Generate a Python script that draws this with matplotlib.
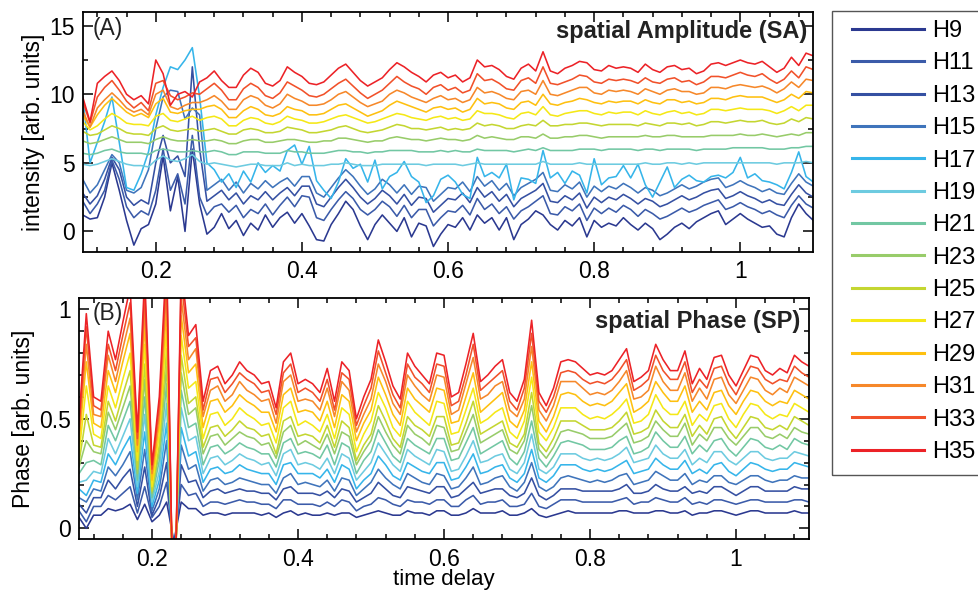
import numpy as np
import matplotlib
matplotlib.use('Agg')
import matplotlib.pyplot as plt
from matplotlib.patches import Rectangle
from matplotlib.ticker import MultipleLocator, FuncFormatter

plt.rcParams['font.family'] = ['Liberation Sans', 'DejaVu Sans']

# time delay grid: 0.10 ... 1.10
x = np.round(0.10 + 0.01 * np.arange(101), 2)

harmonics = ['H9', 'H11', 'H13', 'H15', 'H17', 'H19', 'H21',
             'H23', 'H25', 'H27', 'H29', 'H31', 'H33', 'H35']
colors = ['#2b3990', '#3b5ba9', '#3550a2', '#3f74bb', '#36b5ea', '#6dcbe0', '#72c7a3',
          '#98cc6a', '#c4d631', '#f5e816', '#fec010', '#f6882a', '#f1512a', '#ec2227']

# ---- (A) spatial amplitude ----
amp_h9 = [1.2, 0.9, 1.0, 2.5, 5.0, 3.0, 0.8, -1.0, 0.2, 0.5, 2.0, 5.5, 1.5, 4.0, 0.0, 6.0, 2.0, -0.2, 0.3, 1.3,
          0.2, 0.8, -0.3, 0.6, 0.1, 1.2, 0.3, 1.0, 1.4, 0.6, 1.3, 0.4, -0.6, -0.7, 0.5, 1.3, 2.2, 1.6, 0.4, -0.6,
          0.5, 1.2, 0.6, 0.0, 1.0, -0.4, 0.6, 0.4, -1.1, -0.2, 0.5, 0.3, 1.0, 0.1, 1.2, 0.6, 1.0, 0.1, 1.0, -0.6,
          0.5, 0.9, 1.5, 1.2, 0.5, 0.1, 0.8, 0.4, 1.0, -0.4, 0.8, 0.3, 0.6, 0.4, 1.0, 0.5, 0.1, 0.6, 0.2, -0.6,
          -0.2, 0.3, 0.6, 0.2, 0.7, 1.0, 1.3, 1.5, 0.5, 0.9, 1.3, 0.9, 0.6, 0.3, 0.4, -0.2, -0.4, 1.0, 2.0, 1.3, 0.8]
amp_h11 = [2.2, 1.3, 2.0, 3.0, 5.2, 3.8, 1.8, 1.0, 1.5, 1.2, 3.0, 6.0, 3.0, 4.2, 2.0, 7.0, 2.5, 1.2, 1.8, 2.0,
           1.4, 1.9, 1.0, 1.6, 1.3, 2.0, 1.2, 1.9, 2.5, 1.8, 2.6, 2.5, 1.0, 0.8, 1.6, 2.3, 2.9, 2.4, 1.6, 1.2,
           1.6, 2.2, 1.8, 1.1, 1.9, 1.0, 1.6, 1.6, 0.4, 1.0, 1.5, 1.4, 1.9, 1.2, 2.4, 1.6, 2.0, 1.3, 1.8, 0.9,
           1.5, 1.8, 2.2, 2.6, 1.3, 1.2, 1.8, 1.5, 2.0, 0.8, 1.7, 1.3, 1.7, 1.4, 1.9, 1.6, 1.1, 1.6, 1.3, 0.9,
           1.1, 1.4, 1.7, 1.4, 1.6, 1.9, 2.1, 2.3, 1.6, 1.8, 2.1, 1.8, 1.6, 1.3, 1.5, 1.2, 1.0, 1.9, 2.6, 2.0, 1.7]
amp_h13 = [2.8, 2.0, 2.6, 3.8, 5.4, 4.5, 2.5, 1.9, 2.3, 2.0, 5.0, 7.0, 5.0, 5.5, 4.0, 12.0, 6.0, 2.2, 2.6, 3.0,
           2.3, 2.8, 2.0, 2.6, 2.3, 2.9, 2.3, 2.8, 3.2, 2.6, 3.3, 3.3, 2.0, 1.8, 2.5, 3.2, 3.8, 3.2, 2.5, 2.0,
           2.4, 3.0, 2.6, 2.0, 2.7, 1.9, 2.5, 2.4, 1.4, 1.9, 2.4, 2.3, 2.8, 2.1, 3.2, 2.5, 2.9, 2.2, 2.7, 1.8,
           2.4, 2.7, 3.0, 3.5, 2.2, 2.1, 2.6, 2.3, 2.8, 1.7, 2.5, 2.1, 2.5, 2.3, 2.7, 2.4, 2.0, 2.4, 2.2, 1.8,
           2.0, 2.3, 2.6, 2.3, 2.5, 2.8, 3.0, 3.1, 2.4, 2.6, 2.9, 2.6, 2.4, 2.1, 2.3, 2.0, 1.9, 2.7, 3.4, 2.8, 2.5]
amp_h15 = [3.8, 2.8, 3.4, 4.5, 5.6, 5.0, 3.0, 2.8, 3.2, 4.5, 7.5, 9.8, 10.3, 10.2, 8.2, 9.0, 8.5, 3.0, 3.4, 3.8,
           3.0, 3.6, 2.8, 3.5, 3.1, 3.7, 3.2, 3.6, 3.9, 3.3, 4.0, 4.0, 2.8, 2.5, 3.2, 3.9, 4.5, 4.0, 3.3, 2.7,
           3.1, 3.8, 3.4, 2.8, 3.4, 2.7, 3.3, 3.2, 2.2, 2.7, 3.2, 3.1, 3.6, 2.9, 4.0, 3.3, 3.7, 3.0, 3.5, 2.6,
           3.2, 3.5, 3.8, 4.3, 3.0, 2.9, 3.4, 3.1, 3.6, 2.5, 3.3, 2.9, 3.3, 3.1, 3.5, 3.2, 2.8, 3.2, 3.0, 2.6,
           2.8, 3.1, 3.4, 3.1, 3.3, 3.6, 3.8, 3.9, 3.2, 3.4, 3.7, 3.4, 3.2, 2.9, 3.1, 2.8, 2.7, 3.5, 4.2, 3.6, 3.3]
amp_h17 = [9.8, 5.0, 6.5, 8.0, 9.8, 6.5, 3.2, 3.0, 4.2, 5.8, 8.5, 10.5, 12.0, 11.8, 12.5, 13.4, 9.8, 5.0, 4.5, 3.6,
           4.2, 3.2, 4.4, 3.6, 5.0, 4.3, 4.8, 4.4, 5.9, 6.3, 4.9, 6.2, 3.7, 3.0, 2.4, 3.6, 5.3, 4.6, 4.9, 3.6,
           5.2, 3.1, 4.0, 4.3, 5.1, 4.0, 3.6, 2.1, 2.6, 3.8, 4.1, 3.6, 2.7, 2.4, 5.4, 4.0, 4.3, 3.9, 4.9, 2.3,
           3.9, 3.8, 3.5, 5.9, 3.9, 4.3, 3.5, 4.4, 4.1, 2.8, 5.3, 3.4, 3.9, 4.0, 4.8, 3.9, 4.9, 3.4, 2.5, 3.6,
           4.7, 3.2, 3.8, 4.1, 3.7, 3.6, 4.0, 4.1, 3.9, 4.3, 5.4, 3.9, 4.2, 3.7, 3.6, 3.4, 3.1, 4.3, 5.8, 4.0, 3.6]
amp_h19 = [4.9, 4.8, 4.9, 5.1, 5.3, 5.1, 4.9, 4.8, 4.8, 4.7, 5.2, 5.5, 5.2, 5.1, 5.3, 5.6, 5.1, 4.9, 5.0, 4.9,
           4.8, 4.7, 4.8, 4.9, 4.9, 4.8, 4.8, 4.8, 5.0, 4.8, 4.9, 4.8, 4.8, 4.8, 4.9, 4.9, 5.0, 4.9, 4.8, 4.8,
           4.8, 4.9, 4.9, 4.9, 4.9, 4.9, 4.9, 4.8, 4.9, 4.9, 4.9, 4.9, 4.8, 4.9, 5.0, 4.9, 4.9, 4.9, 4.9, 4.9,
           4.9, 4.9, 4.9, 5.1, 4.9, 4.9, 4.9, 4.9, 5.0, 4.9, 4.9, 4.9, 4.9, 4.9, 4.9, 4.9, 4.9, 5.0, 4.9, 4.9,
           5.0, 5.0, 4.9, 5.0, 4.9, 5.0, 5.0, 5.0, 5.0, 5.0, 5.0, 5.0, 5.0, 5.0, 5.0, 4.9, 5.0, 5.0, 5.0, 5.1, 5.0]
amp_h21 = [5.7, 5.6, 5.7, 5.9, 6.0, 5.8, 5.7, 5.7, 5.7, 5.6, 5.9, 6.0, 5.9, 5.8, 5.8, 5.9, 5.8, 5.8, 5.9, 5.8,
           5.6, 5.6, 5.8, 5.8, 5.8, 5.7, 5.7, 5.7, 5.9, 5.8, 5.8, 5.7, 5.7, 5.7, 5.8, 5.9, 5.9, 5.8, 5.8, 5.7,
           5.8, 5.8, 5.9, 5.9, 5.9, 5.9, 5.8, 5.8, 5.8, 5.9, 5.8, 5.9, 5.8, 5.8, 6.0, 5.9, 5.9, 5.9, 5.9, 5.8,
           5.9, 6.0, 5.9, 6.1, 5.9, 5.9, 5.9, 5.9, 6.0, 6.0, 6.0, 5.9, 6.0, 6.0, 6.0, 6.0, 5.9, 6.0, 6.0, 5.9,
           6.0, 6.0, 6.0, 6.0, 5.9, 6.0, 6.0, 6.0, 6.0, 6.1, 6.1, 6.1, 6.1, 6.1, 6.0, 6.0, 6.0, 6.1, 6.1, 6.2, 6.2]
amp_h23 = [6.6, 6.4, 6.5, 6.7, 6.9, 6.7, 6.5, 6.5, 6.5, 6.4, 6.7, 6.9, 6.7, 6.6, 6.6, 6.7, 6.6, 6.6, 6.7, 6.6,
           6.4, 6.4, 6.6, 6.7, 6.7, 6.5, 6.5, 6.6, 6.7, 6.7, 6.6, 6.5, 6.5, 6.6, 6.6, 6.8, 6.8, 6.7, 6.6, 6.5,
           6.6, 6.6, 6.8, 6.9, 6.8, 6.7, 6.7, 6.6, 6.7, 6.8, 6.7, 6.7, 6.6, 6.7, 7.0, 6.8, 6.9, 6.8, 6.7, 6.7,
           6.9, 6.9, 6.8, 7.1, 6.8, 6.8, 6.9, 6.9, 7.0, 7.0, 6.9, 6.8, 6.9, 6.9, 6.9, 6.9, 6.9, 7.0, 6.9, 6.9,
           7.0, 7.0, 6.9, 6.9, 6.9, 6.9, 7.0, 7.0, 7.0, 7.0, 7.1, 7.0, 7.0, 7.1, 7.0, 6.9, 7.0, 7.1, 7.0, 7.2, 7.2]
amp_h25 = [7.3, 7.0, 7.1, 7.4, 7.7, 7.5, 7.2, 7.1, 7.1, 7.0, 7.5, 7.7, 7.4, 7.3, 7.4, 7.5, 7.3, 7.4, 7.5, 7.3,
           7.1, 7.1, 7.4, 7.5, 7.4, 7.2, 7.2, 7.3, 7.6, 7.5, 7.4, 7.2, 7.2, 7.3, 7.4, 7.6, 7.7, 7.5, 7.3, 7.2,
           7.3, 7.4, 7.6, 7.8, 7.7, 7.5, 7.5, 7.4, 7.5, 7.6, 7.4, 7.5, 7.4, 7.5, 7.9, 7.7, 7.8, 7.7, 7.5, 7.5,
           7.7, 7.8, 7.7, 8.1, 7.7, 7.7, 7.8, 7.8, 7.9, 7.9, 7.8, 7.7, 7.8, 7.8, 7.8, 7.8, 7.7, 7.9, 7.8, 7.7,
           7.9, 7.9, 7.8, 7.9, 7.7, 7.8, 8.0, 8.0, 7.9, 8.0, 8.1, 8.0, 8.0, 8.1, 7.9, 7.8, 7.9, 8.2, 8.0, 8.3, 8.2]
amp_h27 = [8.0, 7.4, 7.7, 8.2, 8.6, 8.3, 7.9, 7.8, 7.8, 7.7, 8.4, 8.6, 8.1, 8.0, 8.2, 8.4, 8.1, 8.3, 8.4, 8.2,
           7.7, 7.7, 8.1, 8.3, 8.2, 7.9, 7.8, 8.0, 8.4, 8.2, 8.1, 7.9, 7.9, 8.0, 8.2, 8.4, 8.5, 8.3, 8.1, 7.9,
           8.0, 8.2, 8.4, 8.6, 8.5, 8.3, 8.2, 8.1, 8.3, 8.4, 8.2, 8.3, 8.1, 8.2, 8.8, 8.6, 8.6, 8.5, 8.3, 8.2,
           8.6, 8.7, 8.5, 9.1, 8.5, 8.4, 8.6, 8.7, 8.8, 8.8, 8.6, 8.5, 8.7, 8.6, 8.7, 8.7, 8.5, 8.8, 8.6, 8.5,
           8.7, 8.8, 8.6, 8.7, 8.5, 8.6, 8.9, 8.9, 8.8, 8.9, 9.0, 8.9, 8.9, 8.9, 8.8, 8.6, 8.8, 9.1, 8.8, 9.2, 9.2]
amp_h29 = [8.5, 7.6, 8.5, 9.2, 9.7, 9.2, 8.7, 8.4, 8.6, 8.3, 9.3, 9.7, 8.7, 8.6, 8.8, 8.9, 8.9, 9.1, 9.2, 8.9,
           8.3, 8.3, 8.8, 9.1, 8.9, 8.5, 8.4, 8.6, 9.1, 8.9, 8.8, 8.5, 8.5, 8.6, 8.9, 9.2, 9.3, 9.0, 8.7, 8.4,
           8.6, 8.8, 9.2, 9.5, 9.3, 9.1, 8.9, 8.7, 9.0, 9.1, 8.9, 9.0, 8.7, 8.9, 9.7, 9.3, 9.4, 9.3, 9.0, 8.9,
           9.4, 9.5, 9.2, 10.0, 9.3, 9.2, 9.4, 9.5, 9.7, 9.6, 9.4, 9.3, 9.5, 9.4, 9.5, 9.5, 9.3, 9.6, 9.4, 9.3,
           9.6, 9.6, 9.4, 9.5, 9.3, 9.4, 9.7, 9.7, 9.6, 9.8, 9.9, 9.8, 9.8, 9.8, 9.6, 9.4, 9.6, 10.0, 9.7, 10.2, 10.1]
amp_h31 = [8.8, 7.6, 9.0, 9.6, 10.1, 9.6, 9.0, 8.7, 8.9, 8.5, 10.0, 10.3, 9.1, 8.9, 9.2, 9.4, 9.4, 9.6, 9.9, 9.5,
           8.9, 8.9, 9.6, 9.9, 9.7, 9.2, 9.0, 9.3, 10.0, 9.7, 9.5, 9.2, 9.2, 9.3, 9.6, 10.0, 10.2, 9.8, 9.4, 9.1,
           9.3, 9.5, 10.0, 10.3, 10.1, 9.8, 9.6, 9.4, 9.7, 9.9, 9.6, 9.7, 9.4, 9.6, 10.5, 10.1, 10.2, 10.0, 9.7, 9.6,
           10.2, 10.3, 10.0, 11.0, 10.0, 9.9, 10.1, 10.3, 10.5, 10.5, 10.1, 10.0, 10.3, 10.2, 10.3, 10.2, 10.0, 10.4, 10.2, 10.0,
           10.3, 10.4, 10.2, 10.2, 10.0, 10.1, 10.5, 10.5, 10.4, 10.6, 10.7, 10.6, 10.5, 10.6, 10.4, 10.1, 10.4, 10.9, 10.5, 11.1, 11.0]
amp_h33 = [9.5, 7.9, 9.8, 10.5, 11.0, 10.3, 9.5, 9.0, 9.4, 8.8, 10.8, 11.0, 9.9, 9.6, 9.8, 10.1, 10.0, 10.4, 10.8, 10.3,
           9.6, 9.6, 10.4, 10.8, 10.5, 9.9, 9.7, 10.1, 10.9, 10.6, 10.3, 9.9, 9.8, 10.0, 10.4, 10.8, 11.1, 10.6, 10.1, 9.7,
           10.0, 10.3, 10.8, 11.3, 10.9, 10.6, 10.4, 10.0, 10.5, 10.7, 10.3, 10.5, 10.1, 10.3, 11.5, 11.0, 11.1, 10.8, 10.4, 10.3,
           11.0, 11.2, 10.8, 12.0, 10.8, 10.7, 10.9, 11.1, 11.4, 11.3, 10.9, 10.8, 11.1, 11.0, 11.1, 11.0, 10.8, 11.2, 10.9, 10.8,
           11.1, 11.2, 10.9, 11.0, 10.7, 10.9, 11.3, 11.3, 11.2, 11.4, 11.6, 11.4, 11.3, 11.5, 11.1, 10.8, 11.1, 11.7, 11.2, 12.0, 11.8]
amp_h35 = [9.8, 8.0, 10.8, 11.3, 11.7, 11.0, 10.0, 9.6, 9.9, 9.3, 12.5, 11.5, 9.2, 10.0, 10.2, 9.8, 10.9, 11.2, 11.7, 11.0,
           10.5, 10.5, 11.4, 11.9, 11.6, 10.8, 10.6, 11.0, 12.0, 11.6, 11.3, 10.8, 10.7, 10.9, 11.4, 11.9, 12.2, 11.6, 11.0, 10.6,
           10.9, 11.2, 11.8, 12.3, 12.0, 11.6, 11.3, 10.9, 11.4, 11.6, 11.2, 11.4, 10.9, 11.2, 12.5, 12.0, 12.1, 11.8, 11.3, 11.1,
           11.9, 12.2, 11.7, 13.1, 11.7, 11.5, 11.9, 12.1, 12.4, 12.3, 11.8, 11.7, 12.1, 11.9, 12.0, 11.9, 11.6, 12.2, 11.8, 11.6,
           12.0, 12.1, 11.8, 11.9, 11.5, 11.7, 12.2, 12.3, 12.1, 12.3, 12.5, 12.3, 12.2, 12.4, 12.0, 11.6, 11.9, 12.7, 12.1, 13.0, 12.8]

# ---- (B) spatial phase ----
ph_h9 = [.05, .00, .06, .06, .09, .08, .09, .11, .04, .11, .03, .06, .12, -.06, .12, .09, .09, .06, .07, .07,
         .06, .07, .07, .07, .07, .06, .07, .05, .07, .08, .06, .07, .06, .06, .07, .06, .07, .07, .05, .06,
         .07, .08, .07, .06, .06, .08, .07, .07, .06, .08, .08, .06, .06, .07, .09, .07, .07, .07, .08, .06,
         .06, .07, .09, .06, .05, .06, .07, .08, .07, .07, .07, .07, .07, .07, .08, .08, .07, .07, .07, .08,
         .08, .07, .07, .08, .06, .07, .07, .08, .08, .07, .06, .07, .08, .08, .07, .07, .07, .07, .08, .07, .07]
ph_h11 = [.08, .03, .10, .10, .15, .13, .16, .19, .07, .19, .05, .10, .21, -.10, .20, .15, .16, .10, .12, .12,
          .11, .12, .13, .12, .12, .11, .11, .09, .13, .13, .11, .11, .11, .10, .12, .10, .13, .12, .08, .10,
          .11, .14, .13, .11, .10, .13, .12, .12, .11, .13, .13, .10, .10, .13, .15, .11, .12, .12, .13, .10,
          .10, .11, .16, .10, .09, .11, .13, .13, .13, .12, .12, .12, .12, .12, .13, .14, .11, .12, .12, .14,
          .13, .12, .12, .14, .11, .12, .11, .13, .13, .12, .11, .12, .13, .13, .12, .12, .12, .12, .13, .13, .12]
ph_h13 = [.11, .07, .14, .14, .22, .18, .23, .27, .10, .28, .06, .14, .30, -.16, .29, .21, .22, .14, .17, .18,
          .16, .17, .18, .17, .17, .16, .16, .13, .18, .19, .16, .16, .16, .15, .17, .14, .18, .17, .12, .14,
          .16, .21, .18, .15, .14, .19, .18, .17, .16, .19, .19, .14, .15, .18, .21, .16, .17, .18, .18, .15,
          .14, .16, .23, .15, .13, .15, .18, .18, .18, .17, .17, .17, .17, .17, .18, .20, .16, .16, .17, .20,
          .18, .17, .17, .19, .16, .17, .16, .19, .19, .17, .15, .17, .19, .19, .17, .17, .17, .17, .19, .18, .18]
ph_h15 = [.14, .12, .18, .17, .28, .24, .29, .35, .13, .36, .08, .18, .40, -.22, .38, .27, .29, .17, .22, .23,
          .20, .21, .23, .22, .21, .20, .20, .16, .23, .25, .20, .21, .20, .19, .22, .17, .23, .22, .15, .18,
          .21, .27, .23, .20, .18, .25, .23, .21, .20, .25, .24, .18, .19, .23, .28, .20, .21, .23, .24, .19,
          .17, .21, .30, .19, .17, .19, .23, .24, .23, .22, .21, .22, .21, .22, .24, .25, .20, .21, .22, .26,
          .24, .22, .22, .25, .20, .22, .21, .24, .24, .21, .20, .22, .24, .24, .22, .21, .22, .22, .24, .23, .23]
ph_h17 = [.18, .15, .22, .21, .34, .29, .36, .42, .16, .44, .10, .22, .48, -.26, .46, .33, .35, .21, .27, .28,
          .25, .26, .29, .27, .26, .25, .25, .20, .29, .30, .25, .25, .25, .23, .27, .21, .29, .27, .18, .22,
          .25, .33, .29, .24, .22, .30, .28, .26, .25, .30, .30, .22, .23, .28, .34, .25, .26, .28, .29, .23,
          .21, .25, .36, .23, .21, .24, .29, .29, .29, .27, .26, .27, .26, .27, .29, .31, .25, .26, .27, .32,
          .29, .27, .27, .31, .25, .27, .25, .29, .30, .26, .24, .27, .30, .29, .27, .26, .27, .27, .30, .29, .28]
ph_h19 = [.21, .22, .26, .25, .41, .34, .42, .50, .19, .52, .12, .26, .57, -.30, .55, .40, .42, .25, .32, .33,
          .29, .31, .34, .32, .31, .29, .30, .24, .34, .36, .29, .30, .29, .27, .32, .25, .34, .32, .22, .26,
          .30, .39, .34, .29, .26, .36, .33, .31, .29, .36, .35, .26, .27, .33, .40, .30, .31, .33, .34, .27,
          .25, .30, .43, .27, .25, .28, .34, .34, .34, .32, .31, .32, .31, .32, .34, .37, .30, .31, .32, .38,
          .34, .32, .32, .36, .29, .32, .30, .35, .35, .31, .29, .32, .35, .35, .32, .31, .32, .32, .35, .34, .33]
ph_h21 = [.25, .30, .31, .29, .47, .40, .49, .58, .22, .60, .14, .31, .66, -.34, .63, .46, .48, .29, .37, .38,
          .34, .36, .39, .37, .36, .34, .34, .28, .39, .41, .34, .35, .34, .32, .38, .29, .39, .37, .25, .31,
          .35, .45, .39, .33, .30, .41, .38, .36, .34, .41, .41, .31, .32, .39, .46, .34, .36, .38, .40, .32,
          .29, .35, .49, .32, .28, .33, .39, .40, .39, .38, .36, .36, .36, .37, .40, .42, .34, .35, .37, .44,
          .40, .37, .37, .42, .34, .38, .35, .40, .41, .36, .33, .37, .41, .40, .37, .36, .38, .36, .41, .39, .38]
ph_h23 = [.28, .40, .35, .34, .53, .45, .55, .65, .25, .68, .16, .35, .74, -.39, .71, .52, .55, .34, .42, .43,
          .38, .41, .44, .42, .41, .38, .39, .32, .44, .47, .38, .40, .38, .36, .43, .34, .44, .42, .29, .35,
          .40, .51, .44, .38, .34, .47, .43, .41, .38, .47, .46, .35, .36, .44, .52, .39, .41, .43, .45, .36,
          .34, .40, .56, .36, .32, .37, .44, .45, .44, .43, .41, .41, .41, .42, .45, .48, .39, .40, .42, .49,
          .45, .42, .42, .48, .38, .43, .40, .46, .46, .41, .38, .42, .46, .46, .42, .41, .43, .41, .46, .44, .43]
ph_h25 = [.30, .52, .38, .37, .58, .49, .61, .72, .27, .75, .17, .38, .82, -.44, .79, .57, .60, .37, .46, .47,
          .42, .45, .49, .46, .45, .42, .43, .34, .49, .51, .42, .43, .42, .39, .47, .37, .49, .46, .31, .38,
          .43, .56, .49, .41, .37, .51, .47, .45, .42, .51, .51, .38, .39, .48, .58, .43, .45, .47, .49, .39,
          .37, .43, .62, .39, .35, .41, .49, .49, .49, .47, .45, .45, .45, .46, .49, .53, .43, .44, .46, .54,
          .49, .46, .46, .52, .42, .47, .43, .50, .51, .45, .41, .46, .51, .50, .46, .45, .47, .45, .51, .49, .47]
ph_h27 = [.34, .65, .43, .41, .65, .55, .68, .80, .31, .84, .19, .43, .91, -.48, .88, .64, .67, .41, .52, .53,
          .47, .50, .55, .52, .50, .47, .48, .39, .55, .58, .47, .49, .47, .44, .52, .41, .55, .52, .35, .43,
          .49, .62, .55, .46, .42, .58, .53, .50, .47, .58, .57, .43, .44, .54, .64, .48, .50, .53, .55, .44,
          .41, .49, .69, .44, .40, .46, .55, .55, .55, .52, .50, .51, .50, .52, .55, .59, .48, .49, .52, .61,
          .55, .52, .52, .58, .47, .52, .49, .56, .57, .50, .46, .52, .57, .56, .52, .50, .52, .51, .57, .55, .53]
ph_h29 = [.39, .76, .48, .46, .72, .62, .76, .89, .35, .93, .22, .48, 1.01, -.51, .97, .71, .75, .46, .58, .59,
          .53, .56, .61, .58, .56, .53, .53, .44, .61, .64, .53, .54, .53, .49, .58, .46, .61, .58, .40, .48,
          .54, .69, .61, .52, .47, .64, .59, .56, .53, .64, .63, .48, .49, .60, .71, .53, .56, .59, .62, .49,
          .46, .54, .76, .49, .44, .51, .61, .62, .61, .58, .56, .57, .56, .58, .62, .66, .53, .55, .58, .67,
          .62, .58, .58, .65, .53, .58, .54, .62, .63, .56, .52, .58, .63, .62, .58, .56, .58, .57, .63, .61, .59]
ph_h31 = [.43, .84, .52, .51, .79, .67, .82, .96, .38, 1.01, .25, .52, 1.10, -.53, 1.05, .77, .82, .51, .63, .65,
          .58, .61, .67, .63, .61, .58, .59, .48, .67, .70, .58, .59, .58, .54, .64, .51, .67, .63, .44, .52,
          .59, .75, .67, .57, .52, .70, .65, .61, .58, .70, .69, .52, .54, .66, .78, .59, .61, .65, .67, .54,
          .51, .59, .83, .54, .49, .56, .67, .67, .67, .64, .61, .62, .61, .63, .67, .72, .59, .60, .63, .74,
          .67, .63, .63, .71, .58, .64, .59, .68, .69, .61, .57, .63, .69, .68, .63, .61, .64, .62, .69, .67, .65]
ph_h33 = [.46, .92, .56, .54, .84, .72, .88, 1.03, .41, 1.08, .27, .56, 1.17, -.57, 1.13, .83, .87, .54, .68, .69,
          .62, .66, .71, .68, .66, .62, .63, .52, .71, .75, .62, .64, .62, .58, .68, .54, .71, .68, .47, .56,
          .64, .81, .71, .61, .55, .75, .69, .66, .62, .75, .74, .56, .58, .70, .84, .63, .66, .69, .72, .58,
          .54, .64, .89, .58, .53, .60, .71, .72, .71, .68, .66, .67, .66, .68, .72, .77, .63, .65, .68, .79,
          .72, .68, .68, .76, .62, .68, .64, .73, .74, .66, .61, .68, .74, .73, .68, .66, .68, .67, .74, .71, .69]
ph_h35 = [.49, .98, .60, .58, .90, .77, .94, 1.10, .44, 1.15, .29, .60, 1.25, -.60, 1.20, .88, .93, .58, .72, .74,
          .66, .70, .76, .72, .70, .66, .67, .55, .76, .80, .66, .68, .66, .62, .73, .58, .76, .72, .50, .60,
          .68, .86, .76, .65, .59, .80, .74, .70, .66, .80, .79, .60, .62, .75, .89, .67, .70, .74, .77, .62,
          .58, .68, .95, .62, .56, .64, .76, .77, .76, .73, .70, .71, .70, .72, .77, .82, .67, .69, .72, .84,
          .77, .72, .72, .81, .66, .73, .68, .78, .79, .70, .65, .72, .79, .78, .72, .70, .73, .71, .79, .76, .74]

amp_series = [amp_h9, amp_h11, amp_h13, amp_h15, amp_h17, amp_h19, amp_h21,
              amp_h23, amp_h25, amp_h27, amp_h29, amp_h31, amp_h33, amp_h35]
phase_series = [ph_h9, ph_h11, ph_h13, ph_h15, ph_h17, ph_h19, ph_h21,
                ph_h23, ph_h25, ph_h27, ph_h29, ph_h31, ph_h33, ph_h35]

fig = plt.figure(figsize=(9.79, 5.94), dpi=100)
ax1 = fig.add_axes([0.0845, 0.5758, 0.7463, 0.404])
ax2 = fig.add_axes([0.0807, 0.0921, 0.7457, 0.4057])

for name, col, ya, yp in zip(harmonics, colors, amp_series, phase_series):
    ax1.plot(x, ya, color=col, lw=1.15, label=name)
    ax2.plot(x, yp, color=col, lw=1.15)


def fmt(v, pos):
    return '%g' % round(v, 2)


for ax in (ax1, ax2):
    ax.set_xlim(0.1, 1.1)
    ax.xaxis.set_major_locator(MultipleLocator(0.2))
    ax.xaxis.set_minor_locator(MultipleLocator(0.04))
    ax.xaxis.set_major_formatter(FuncFormatter(fmt))
    ax.tick_params(which='both', direction='in', top=True, right=True,
                   labelsize=16.5, width=1.1)
    ax.tick_params(which='major', length=7, pad=6)
    ax.tick_params(which='minor', length=3.5)
    for s in ax.spines.values():
        s.set_linewidth(1.3)

ax1.set_ylim(-1.5, 16)
ax1.yaxis.set_major_locator(MultipleLocator(5))
ax1.yaxis.set_minor_locator(MultipleLocator(2.5))
ax1.set_ylabel('intensity [arb. units]', fontsize=16.5, labelpad=3)
ax1.text(0.014, 0.933, '(A)', transform=ax1.transAxes, fontsize=16.5,
         ha='left', va='center', color='#222222')
ax1.text(0.991, 0.918, 'spatial Amplitude (SA)', transform=ax1.transAxes,
         fontsize=17, fontweight='bold', ha='right', va='center', color='#222222')

ax2.set_ylim(-0.05, 1.05)
ax2.yaxis.set_major_locator(MultipleLocator(0.5))
ax2.yaxis.set_minor_locator(MultipleLocator(0.1))
ax2.yaxis.set_major_formatter(FuncFormatter(fmt))
ax2.set_ylabel('Phase [arb. units]', fontsize=16.5, labelpad=3)
ax2.set_xlabel('time delay', fontsize=16, labelpad=-1)
ax2.text(0.019, 0.939, '(B)', transform=ax2.transAxes, fontsize=16.5,
         ha='left', va='center', color='#222222')
ax2.text(0.988, 0.903, 'spatial Phase (SP)', transform=ax2.transAxes,
         fontsize=17, fontweight='bold', ha='right', va='center', color='#222222')

# legend: entries placed freely, box drawn separately (it runs off the right edge)
handles, labels = ax1.get_legend_handles_labels()
leg = fig.legend(handles, labels, loc='upper left',
                 bbox_to_anchor=(852 / 979, 1 - 20 / 594),
                 bbox_transform=fig.transFigure, frameon=False, fontsize=17,
                 borderpad=0, handlelength=3.05, handletextpad=0.34,
                 labelspacing=0.44, borderaxespad=0)
for ln in leg.get_lines():
    ln.set_linewidth(2.2)

box = Rectangle((832 / 979, 1 - 475 / 594), (1010 - 832) / 979, (475 - 10.7) / 594,
                transform=fig.transFigure, fill=False, edgecolor='#555555', lw=1.0)
fig.add_artist(box)

fig.savefig('out.png', dpi=100)
